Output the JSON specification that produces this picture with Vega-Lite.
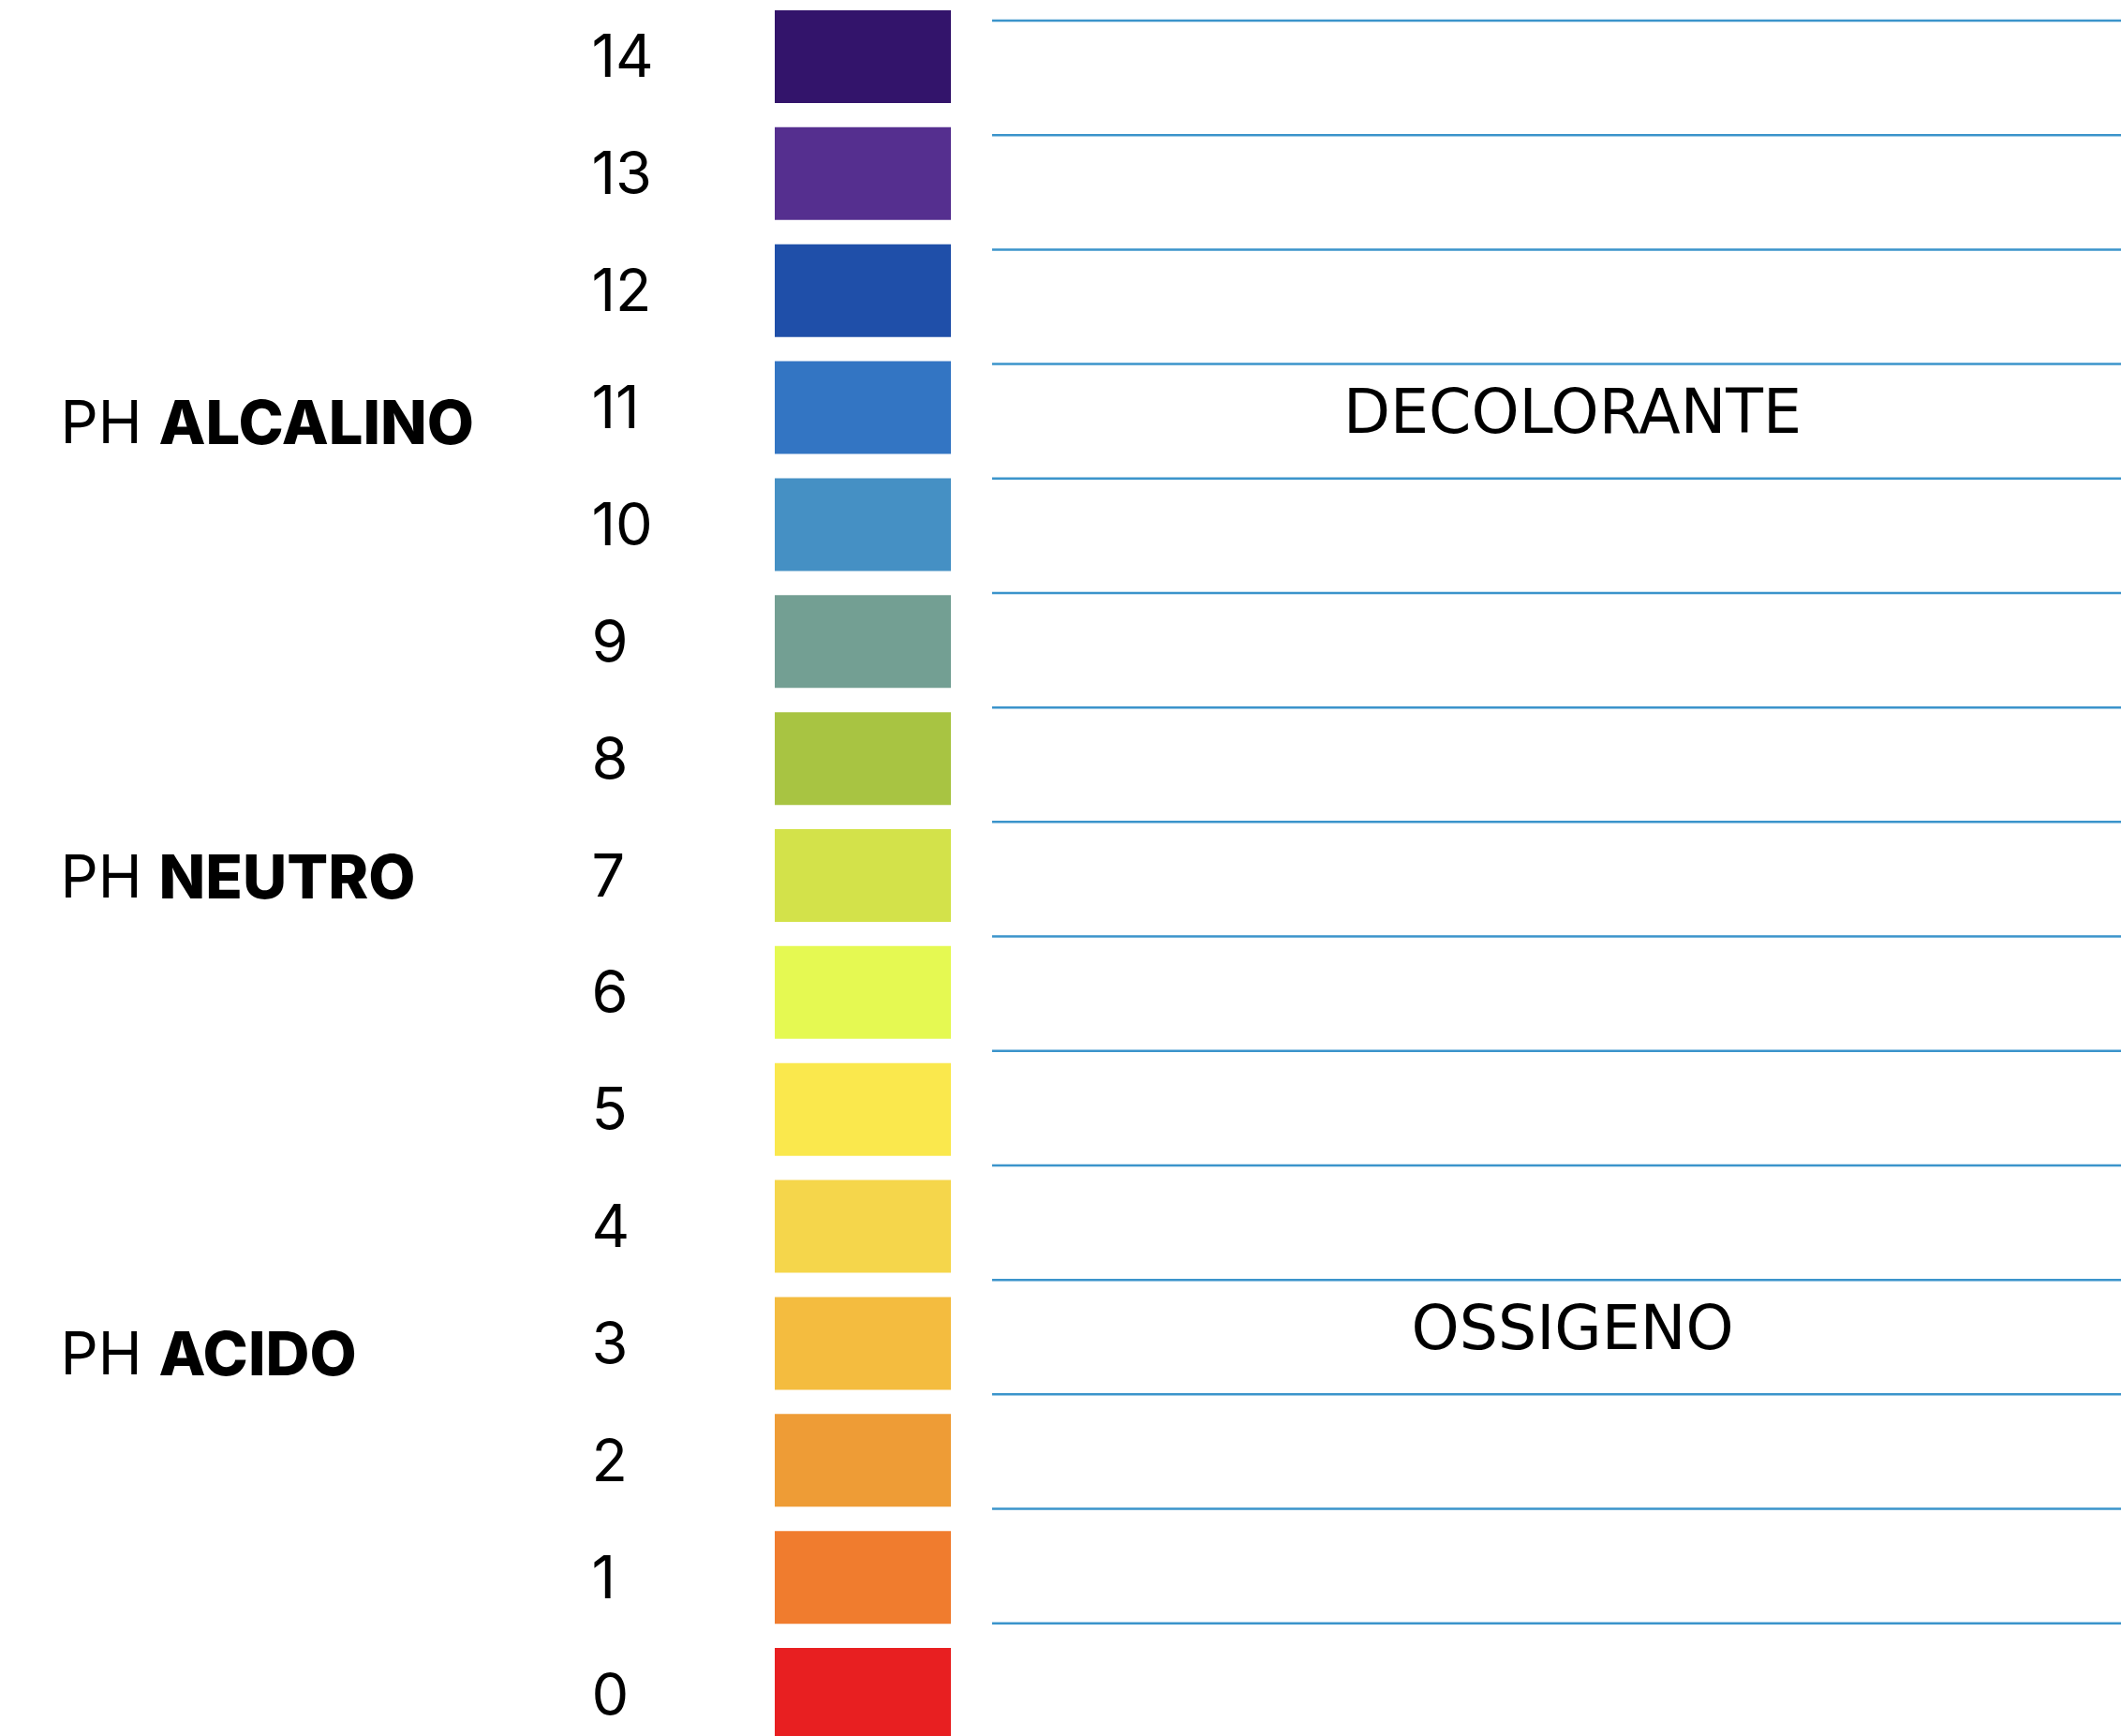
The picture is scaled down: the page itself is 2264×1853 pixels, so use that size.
{
  "$schema": "https://vega.github.io/schema/vega-lite/v6.json",
  "padding": 0,
  "background": "white",
  "spacing": 42,
  "config": {"view": {"stroke": null}, "font": "Inter", "text": {"color": "#000000"}},
  "resolve": {"scale": {"y": "independent"}},
  "hconcat": [
    {
      "width": 589,
      "height": 1869,
      "data": {"values": [
        {"prefix": "PH", "word": "ALCALINO", "ph": 10.85},
        {"prefix": "PH", "word": "NEUTRO", "ph": 6.96},
        {"prefix": "PH", "word": "ACIDO", "ph": 2.89}
      ]},
      "encoding": {
        "y": {"field": "ph", "type": "quantitative", "scale": {"domain": [-0.4845, 14.4845], "nice": false, "zero": false}, "axis": null}
      },
      "layer": [
        {"mark": {"type": "text", "align": "right", "baseline": "middle", "fontSize": 63, "fontWeight": 400, "font": "Inter", "dx": -143},
         "encoding": {"text": {"field": "prefix"}}},
        {"mark": {"type": "text", "align": "left", "baseline": "middle", "fontSize": 65, "fontWeight": 800, "font": "Inter", "dx": -125},
         "encoding": {"text": {"field": "word"}}}
      ]
    },
    {
      "width": 188,
      "height": 1869,
      "data": {"values": [
        {"ph": 14, "color": "#33146b"},
        {"ph": 13, "color": "#552f8f"},
        {"ph": 12, "color": "#1f4fa9"},
        {"ph": 11, "color": "#3375c3"},
        {"ph": 10, "color": "#4590c4"},
        {"ph": 9, "color": "#739f93"},
        {"ph": 8, "color": "#a8c442"},
        {"ph": 7, "color": "#d3e24a"},
        {"ph": 6, "color": "#e5f952"},
        {"ph": 5, "color": "#fae84d"},
        {"ph": 4, "color": "#f5d64b"},
        {"ph": 3, "color": "#f4bc3f"},
        {"ph": 2, "color": "#ee9c36"},
        {"ph": 1, "color": "#f07c2e"},
        {"ph": 0, "color": "#e81f21"}
      ]},
      "mark": {"type": "rect"},
      "encoding": {
        "y": {
          "field": "ph", "type": "ordinal", "sort": "descending",
          "scale": {"paddingInner": 0.207, "paddingOuter": 0.088},
          "axis": {
            "title": null, "domain": false, "ticks": false, "tickSize": 0,
            "labelAlign": "left", "labelBaseline": "middle", "labelPadding": 196,
            "labelFont": "Inter", "labelFontSize": 63, "labelColor": "#000000",
            "labelOffset": 3, "minExtent": 0, "maxExtent": 400, "labelLimit": 0
          }
        },
        "color": {"field": "color", "type": "nominal", "scale": null}
      }
    },
    {
      "width": 1207,
      "height": 1869,
      "encoding": {
        "y": {"field": "line", "type": "quantitative", "scale": {"domain": [-0.18, 15.115], "reverse": true, "nice": false, "zero": false}, "axis": null}
      },
      "layer": [
        {
          "data": {"values": [
            {"line": 0}, {"line": 1}, {"line": 2}, {"line": 3}, {"line": 4},
            {"line": 5}, {"line": 6}, {"line": 7}, {"line": 8}, {"line": 9},
            {"line": 10}, {"line": 11}, {"line": 12}, {"line": 13}, {"line": 14}
          ]},
          "mark": {"type": "rule", "color": "#3b94cb", "strokeWidth": 2.5}
        },
        {
          "data": {"values": [
            {"label": "DECOLORANTE", "line": 3.44},
            {"label": "OSSIGENO", "line": 11.44}
          ]},
          "mark": {"type": "text", "baseline": "middle", "align": "center", "fontSize": 65, "fontWeight": 400, "font": "DejaVu Sans", "dx": 16},
          "encoding": {"text": {"field": "label"}}
        }
      ]
    }
  ]
}
